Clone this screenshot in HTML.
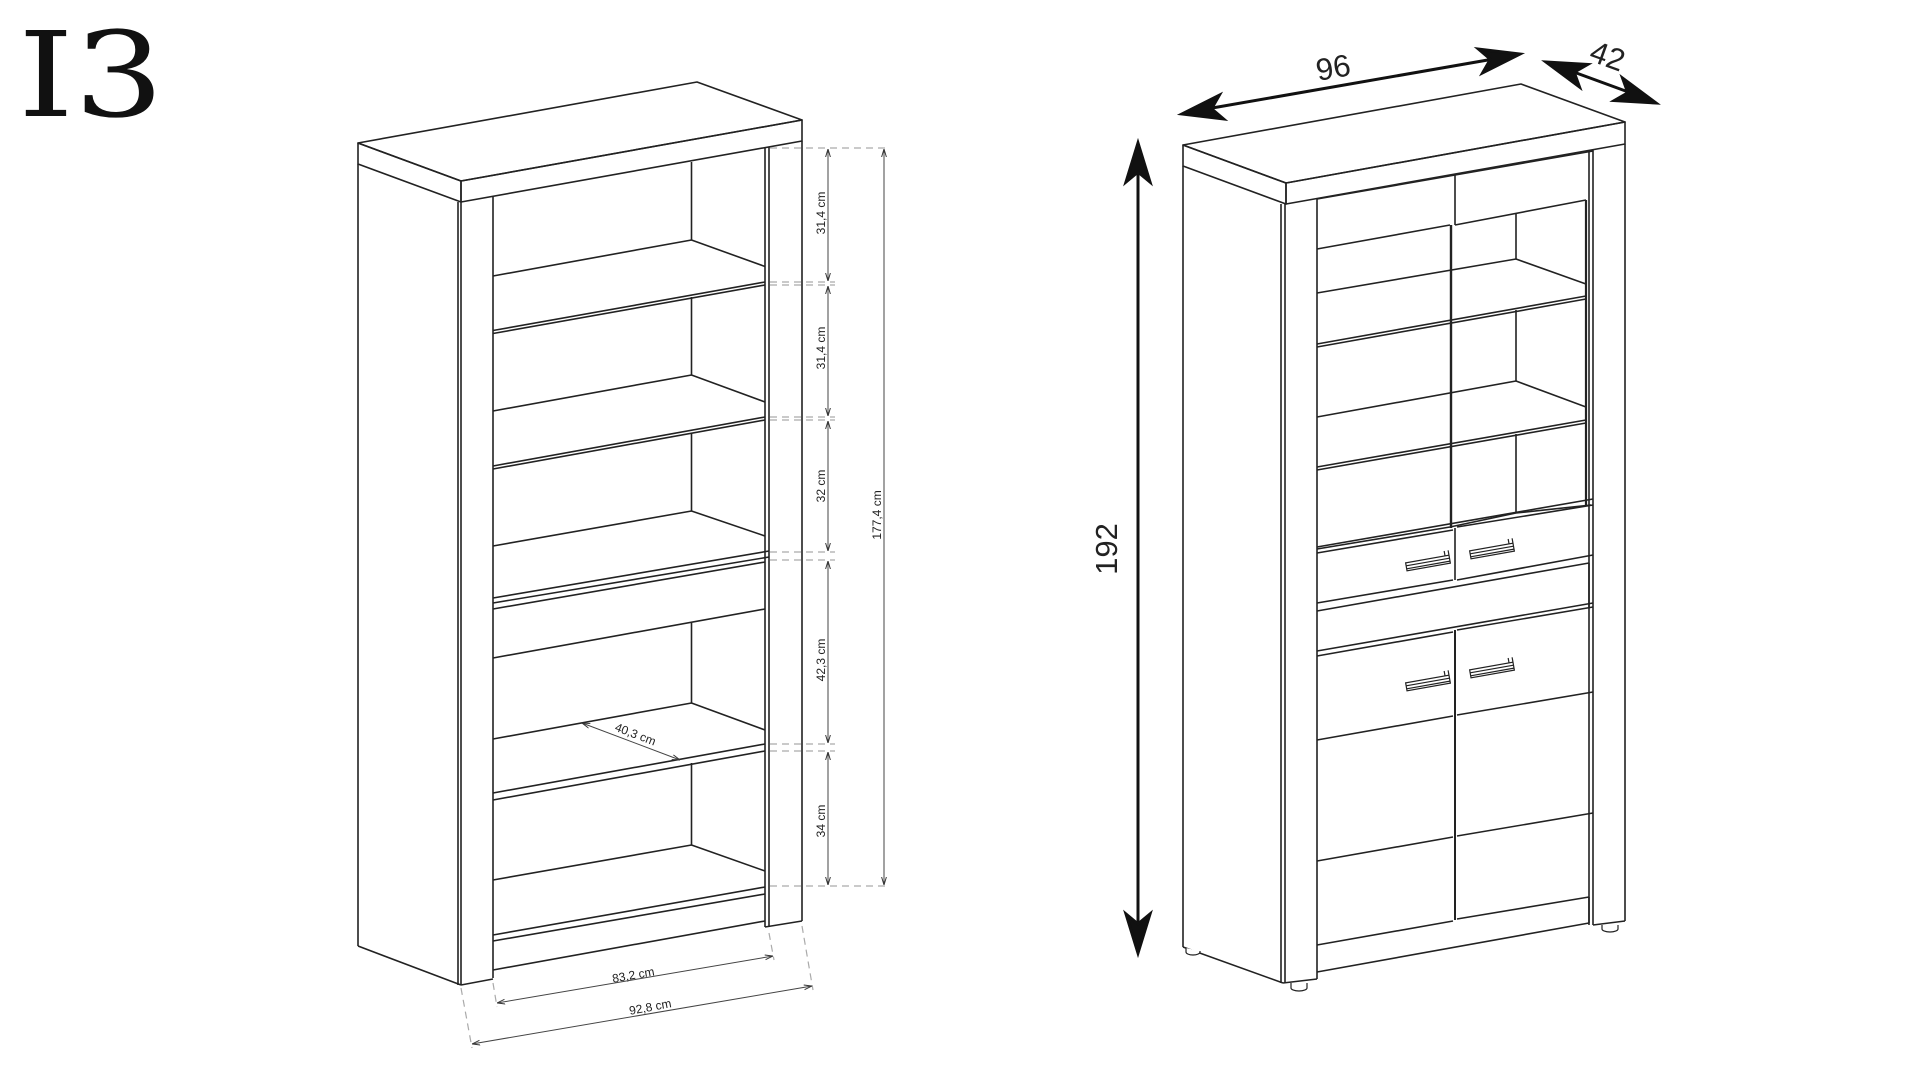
<!DOCTYPE html>
<html><head><meta charset="utf-8"><style>
html,body{margin:0;padding:0;background:#fff;}
svg{display:block;}
text{font-family:"Liberation Sans","DejaVu Sans",sans-serif;fill:#222;}
</style></head><body>
<svg width="1920" height="1080" viewBox="0 0 1920 1080" xmlns="http://www.w3.org/2000/svg">
<defs>
<marker id="sa" viewBox="0 0 10 10" refX="10" refY="5" markerWidth="8" markerHeight="8" orient="auto-start-reverse"><path d="M0,2 L10,5 L0,8" fill="none" stroke="#333" stroke-width="1.2"/></marker>
</defs>
<text transform="translate(18,116) scale(1.2,1)" style="font-family:'DejaVu Serif','Liberation Serif',serif;font-size:118px;fill:#111">I3</text>

<!-- LEFT CABINET -->
<g fill="none" stroke="#222" stroke-width="1.6" stroke-linejoin="round">
<polygon points="358,143 697,82 802,120 461,181" fill="#fff"/>
<polygon points="461,181 802,120 802,141 461,202"/>
<polygon points="358,143 461,181 461,202 358,164"/>
<line x1="358" y1="164" x2="358" y2="946"/>
<line x1="358" y1="946" x2="461" y2="985"/>
<line x1="458" y1="202" x2="458" y2="985"/>
<line x1="461" y1="202" x2="461" y2="985"/>
<line x1="493" y1="197" x2="493" y2="978"/>
<line x1="461" y1="985" x2="493" y2="979"/>
<line x1="765" y1="148" x2="765" y2="927"/>
<line x1="769" y1="147" x2="769" y2="926"/>
<line x1="802" y1="141" x2="802" y2="921"/>
<line x1="765" y1="927" x2="802" y2="921"/>
<line x1="691.5" y1="162" x2="691.5" y2="240"/>
<line x1="691.5" y1="297" x2="691.5" y2="375"/>
<line x1="691.5" y1="433" x2="691.5" y2="511"/>
<line x1="691.5" y1="623" x2="691.5" y2="703"/>
<line x1="691.5" y1="763" x2="691.5" y2="845"/>
<polyline points="493,276 691.5,240 765,266.5"/>
<line x1="493" y1="330.5" x2="765" y2="282"/><line x1="493" y1="333.5" x2="765" y2="285"/>
<polyline points="493,411 691.5,375 765,402"/>
<line x1="493" y1="466" x2="765" y2="417"/><line x1="493" y1="469" x2="765" y2="420"/>
<polyline points="493,546 691.5,511 765,536"/>
<line x1="493" y1="598" x2="769" y2="551"/><line x1="493" y1="603" x2="769" y2="557"/><line x1="493" y1="609" x2="765" y2="562"/>
<line x1="493" y1="658" x2="765" y2="609"/>
<polyline points="493,739 691.5,703 765,730"/>
<line x1="493" y1="793" x2="765" y2="744"/><line x1="493" y1="800" x2="765" y2="751"/>
<polyline points="493,880 691.5,845 765,871"/>
<line x1="493" y1="935" x2="765" y2="887"/><line x1="493" y1="941" x2="765" y2="894"/>
<line x1="493" y1="970" x2="765" y2="921"/>
</g>
<g stroke="#aaa" stroke-width="1.2" stroke-dasharray="7,5" fill="none">
<line x1="770" y1="148" x2="890" y2="148"/>
<line x1="770" y1="282" x2="835" y2="282"/><line x1="770" y1="285" x2="835" y2="285"/>
<line x1="770" y1="417" x2="835" y2="417"/><line x1="770" y1="420" x2="835" y2="420"/>
<line x1="770" y1="552" x2="835" y2="552"/><line x1="770" y1="560" x2="835" y2="560"/>
<line x1="770" y1="744" x2="835" y2="744"/><line x1="770" y1="751" x2="835" y2="751"/>
<line x1="770" y1="886" x2="890" y2="886"/>
<line x1="461" y1="988" x2="472" y2="1048"/>
<line x1="493" y1="983" x2="497" y2="1007"/>
<line x1="769" y1="933" x2="774" y2="960"/>
<line x1="802" y1="926" x2="813" y2="990"/>
</g>
<g stroke="#444" stroke-width="1" fill="none">
<line x1="828" y1="149" x2="828" y2="281" marker-start="url(#sa)" marker-end="url(#sa)"/>
<line x1="828" y1="286" x2="828" y2="416" marker-start="url(#sa)" marker-end="url(#sa)"/>
<line x1="828" y1="421" x2="828" y2="551" marker-start="url(#sa)" marker-end="url(#sa)"/>
<line x1="828" y1="561" x2="828" y2="743" marker-start="url(#sa)" marker-end="url(#sa)"/>
<line x1="828" y1="752" x2="828" y2="885" marker-start="url(#sa)" marker-end="url(#sa)"/>
<line x1="884" y1="149" x2="884" y2="885" marker-start="url(#sa)" marker-end="url(#sa)"/>
<line x1="497" y1="1003" x2="773" y2="956" marker-start="url(#sa)" marker-end="url(#sa)"/>
<line x1="472" y1="1044" x2="812" y2="986" marker-start="url(#sa)" marker-end="url(#sa)"/>
<line x1="582" y1="723" x2="680" y2="760" marker-start="url(#sa)" marker-end="url(#sa)"/>
</g>
<g style="font-size:12px">
<text transform="translate(825,213) rotate(-90)" text-anchor="middle">31,4 cm</text>
<text transform="translate(825,348) rotate(-90)" text-anchor="middle">31,4 cm</text>
<text transform="translate(825,486) rotate(-90)" text-anchor="middle">32 cm</text>
<text transform="translate(825,660) rotate(-90)" text-anchor="middle">42,3 cm</text>
<text transform="translate(825,821) rotate(-90)" text-anchor="middle">34 cm</text>
<text transform="translate(881,515) rotate(-90)" text-anchor="middle">177,4 cm</text>
<text transform="translate(634,979) rotate(-10)" text-anchor="middle">83,2 cm</text>
<text transform="translate(651,1011) rotate(-10.5)" text-anchor="middle">92,8 cm</text>
<text transform="translate(634,738) rotate(21)" text-anchor="middle">40,3 cm</text>
</g>

<!-- RIGHT CABINET -->
<g fill="none" stroke="#222" stroke-width="1.6" stroke-linejoin="round">
<polygon points="1183,145 1521,84 1625,122 1286,183"/>
<polygon points="1286,183 1625,122 1625,144 1286,204"/>
<polygon points="1183,145 1286,183 1286,204 1183,166"/>
<line x1="1183" y1="166" x2="1183" y2="947"/>
<line x1="1183" y1="947" x2="1283" y2="983"/>
<line x1="1281" y1="204" x2="1281" y2="983"/>
<line x1="1285" y1="204" x2="1285" y2="983"/>
<line x1="1317" y1="198" x2="1317" y2="979"/>
<line x1="1283" y1="983" x2="1317" y2="979"/>
<line x1="1589" y1="151" x2="1589" y2="925"/>
<line x1="1593" y1="150" x2="1593" y2="925"/>
<line x1="1625" y1="144" x2="1625" y2="921"/>
<line x1="1593" y1="925" x2="1625" y2="921"/>
<line x1="1317" y1="199" x2="1593" y2="151"/>
<line x1="1455" y1="175" x2="1455" y2="225"/>
<line x1="1317" y1="249" x2="1450" y2="225"/>
<line x1="1455" y1="225" x2="1586" y2="200"/>
<line x1="1451" y1="225" x2="1451" y2="528" stroke-width="2.4"/>
<line x1="1586" y1="200" x2="1586" y2="505" stroke-width="2.2"/>
<line x1="1516" y1="214" x2="1516" y2="259"/>
<line x1="1516" y1="310" x2="1516" y2="381"/>
<line x1="1516" y1="434" x2="1516" y2="513"/>
<polyline points="1317,293 1516,259 1586,284"/>
<line x1="1317" y1="344" x2="1586" y2="296"/><line x1="1317" y1="347" x2="1586" y2="299"/>
<polyline points="1317,417 1516,381 1586,407"/>
<line x1="1317" y1="467" x2="1586" y2="420"/><line x1="1317" y1="470" x2="1586" y2="423"/>
<polyline points="1317,549 1450,527 1516,513 1591,505"/>
<line x1="1317" y1="547" x2="1593" y2="499"/>
<line x1="1317" y1="553" x2="1453" y2="530"/>
<line x1="1457" y1="527" x2="1593" y2="505"/>
<line x1="1455" y1="528" x2="1455" y2="580"/>
<line x1="1317" y1="603" x2="1453" y2="580"/>
<line x1="1457" y1="580" x2="1593" y2="555"/>
<line x1="1317" y1="611" x2="1589" y2="563"/>
<line x1="1589" y1="563" x2="1589" y2="607"/>
<line x1="1317" y1="651" x2="1593" y2="603"/>
<line x1="1317" y1="656" x2="1453" y2="632"/>
<line x1="1457" y1="630" x2="1593" y2="607"/>
<line x1="1455" y1="630" x2="1455" y2="920" stroke-width="2"/>
<line x1="1317" y1="740" x2="1453" y2="716"/>
<line x1="1457" y1="715" x2="1593" y2="692"/>
<line x1="1317" y1="861" x2="1453" y2="837"/>
<line x1="1457" y1="836" x2="1593" y2="813"/>
<line x1="1317" y1="945" x2="1453" y2="921"/>
<line x1="1457" y1="919" x2="1589" y2="897"/>
<line x1="1317" y1="972" x2="1589" y2="923"/>
<line x1="1589" y1="897" x2="1589" y2="923"/>
</g>
<g fill="#fff" stroke="#222" stroke-width="1.2">
<path d="M1186,948 v4 a7,3 0 0 0 14,0 v-1"/>
<path d="M1291,983 v5 a8,3 0 0 0 16,0 v-5"/>
<path d="M1602,925 v4 a8,3 0 0 0 16,0 v-4"/>
</g>
<g fill="#fff" stroke="#222" stroke-width="1.2">
<g transform="translate(1428,563) rotate(-10)"><rect x="-22" y="-4" width="44" height="8"/><line x1="-22" y1="-1" x2="22" y2="-1"/><line x1="-22" y1="2" x2="22" y2="2"/><line x1="18" y1="-4" x2="18" y2="-9"/><line x1="22" y1="-4" x2="22" y2="-9"/></g>
<g transform="translate(1492,551) rotate(-10)"><rect x="-22" y="-4" width="44" height="8"/><line x1="-22" y1="-1" x2="22" y2="-1"/><line x1="-22" y1="2" x2="22" y2="2"/><line x1="18" y1="-4" x2="18" y2="-9"/><line x1="22" y1="-4" x2="22" y2="-9"/></g>
<g transform="translate(1428,683) rotate(-10)"><rect x="-22" y="-4" width="44" height="8"/><line x1="-22" y1="-1" x2="22" y2="-1"/><line x1="-22" y1="2" x2="22" y2="2"/><line x1="18" y1="-4" x2="18" y2="-9"/><line x1="22" y1="-4" x2="22" y2="-9"/></g>
<g transform="translate(1492,670) rotate(-10)"><rect x="-22" y="-4" width="44" height="8"/><line x1="-22" y1="-1" x2="22" y2="-1"/><line x1="-22" y1="2" x2="22" y2="2"/><line x1="18" y1="-4" x2="18" y2="-9"/><line x1="22" y1="-4" x2="22" y2="-9"/></g>
</g>
<g stroke="#111" stroke-width="3" fill="#111">
<line x1="1138" y1="160" x2="1138" y2="935"/>
<path d="M1138,143 L1126,182 L1138,172 L1150,182 Z"/>
<path d="M1138,953 L1126,914 L1138,924 L1150,914 Z"/>
<line x1="1195" y1="111" x2="1505" y2="57"/>
<g transform="translate(1182,114) rotate(-10)"><path d="M0,0 L40,-12 L30,0 L40,12 Z"/></g>
<g transform="translate(1520,54) rotate(170)"><path d="M0,0 L40,-12 L30,0 L40,12 Z"/></g>
<line x1="1560" y1="67" x2="1642" y2="97"/>
<g transform="translate(1546,62) rotate(20)"><path d="M0,0 L40,-12 L30,0 L40,12 Z"/></g>
<g transform="translate(1656,103) rotate(200)"><path d="M0,0 L40,-12 L30,0 L40,12 Z"/></g>
</g>
<g style="font-size:31px">
<text transform="translate(1335,78) rotate(-10)" text-anchor="middle">96</text>
<text transform="translate(1604,66) rotate(20)" text-anchor="middle">42</text>
<text transform="translate(1117,549) rotate(-90)" text-anchor="middle">192</text>
</g>
</svg>
</body></html>
